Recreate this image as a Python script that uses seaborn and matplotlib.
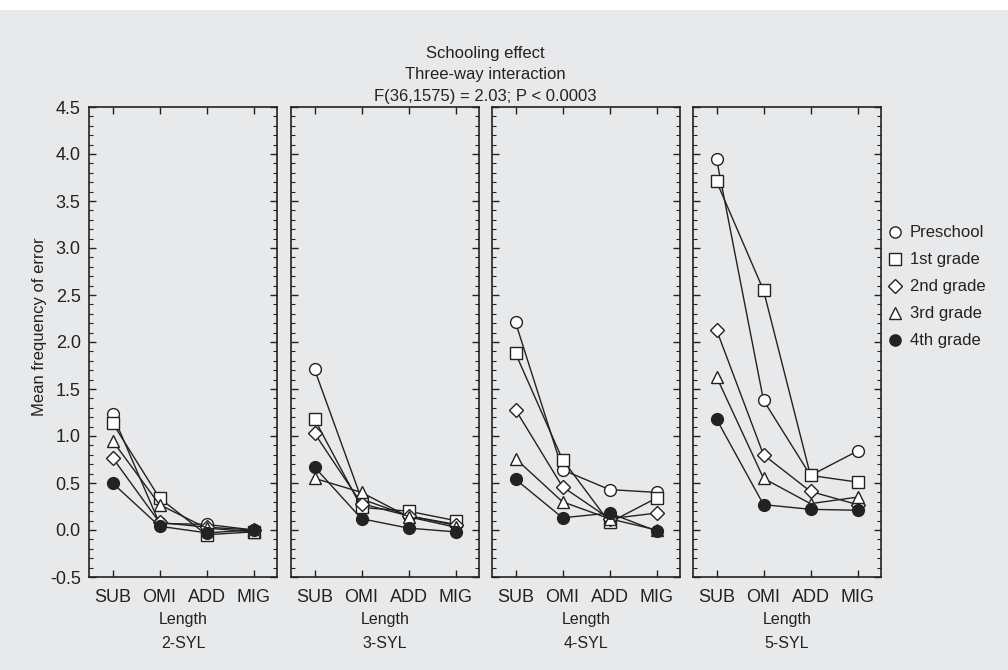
import pandas as pd
import numpy as np
import seaborn as sns
import matplotlib.pyplot as plt
from matplotlib.lines import Line2D
from matplotlib.ticker import MultipleLocator

error_types = ['SUB', 'OMI', 'ADD', 'MIG']
lengths = ['2-SYL', '3-SYL', '4-SYL', '5-SYL']
grades = ['Preschool', '1st grade', '2nd grade', '3rd grade', '4th grade']

# mean frequency of error, one list per grade, per length panel (SUB, OMI, ADD, MIG)
preschool = [[1.23, 0.07, 0.06, 0.00], [1.71, 0.33, 0.15, 0.06], [2.21, 0.64, 0.43, 0.40], [3.95, 1.38, 0.58, 0.84]]
grade1 = [[1.14, 0.34, -0.05, -0.02], [1.18, 0.24, 0.20, 0.10], [1.88, 0.75, 0.08, 0.34], [3.71, 2.55, 0.58, 0.51]]
grade2 = [[0.77, 0.08, 0.03, 0.00], [1.03, 0.28, 0.15, 0.05], [1.28, 0.46, 0.12, 0.18], [2.13, 0.80, 0.41, 0.27]]
grade3 = [[0.95, 0.27, 0.02, -0.02], [0.55, 0.40, 0.14, 0.03], [0.76, 0.30, 0.12, 0.00], [1.63, 0.55, 0.28, 0.35]]
grade4 = [[0.50, 0.04, -0.03, 0.00], [0.67, 0.12, 0.02, -0.02], [0.54, 0.13, 0.18, -0.01], [1.18, 0.27, 0.22, 0.21]]

rows = []
for g, series in zip(grades, [preschool, grade1, grade2, grade3, grade4]):
    for ln, vals in zip(lengths, series):
        for et, v in zip(error_types, vals):
            rows.append({'grade': g, 'length': ln, 'type': et, 'value': v})
df = pd.DataFrame(rows)

bg = '#e8e9eb'
ink = '#222222'
sns.set_style('ticks')
plt.rcParams['font.family'] = ['Liberation Sans', 'DejaVu Sans']
plt.rcParams['font.size'] = 11

markers = {'Preschool': 'o', '1st grade': 's', '2nd grade': 'D', '3rd grade': '^', '4th grade': 'o'}
msizes = {'Preschool': 8.5, '1st grade': 9, '2nd grade': 7, '3rd grade': 8.5, '4th grade': 8.5}
faces = {'Preschool': 'white', '1st grade': 'white', '2nd grade': 'white', '3rd grade': 'white', '4th grade': ink}

fig = plt.figure(figsize=(10.08, 6.7), dpi=100, facecolor=bg)
fig.patches.append(plt.Rectangle((0, 1 - 10 / 670), 1, 10 / 670, transform=fig.transFigure,
                                 facecolor='white', edgecolor='none', zorder=0))

lefts = [89, 291, 492, 693]
for i, ln in enumerate(lengths):
    ax = fig.add_axes([lefts[i] / 1008, 93 / 670, 188 / 1008, 470 / 670])
    ax.set_facecolor(bg)
    sub = df[df['length'] == ln]
    for g in grades:
        d = sub[sub['grade'] == g]
        sns.lineplot(data=d, x='type', y='value', ax=ax, color=ink, lw=1.0,
                     marker=markers[g], markersize=msizes[g], markerfacecolor=faces[g],
                     markeredgecolor=ink, markeredgewidth=1.0, legend=False)
    ax.set_xlim(-0.5, 3.5)
    ax.set_ylim(-0.5, 4.5)
    ax.yaxis.set_major_locator(MultipleLocator(0.5))
    ax.yaxis.set_minor_locator(MultipleLocator(0.1))
    ax.tick_params(which='both', direction='in', top=True, right=True, colors=ink, labelcolor=ink)
    ax.tick_params(which='major', length=5, width=1)
    ax.tick_params(which='minor', length=3, width=0.8)
    ax.tick_params(axis='x', labelsize=13, pad=9)
    for s in ax.spines.values():
        s.set_linewidth(1.2)
        s.set_color(ink)
    ax.set_xlabel('Length\n' + ln, fontsize=11.5, linespacing=1.75, labelpad=4, color=ink)
    if i == 0:
        ax.set_ylabel('Mean frequency of error', fontsize=12, color=ink)
        ax.yaxis.set_label_coords(-0.225, 0.532)
        ax.set_yticks(np.arange(-0.5, 4.51, 0.5))
        ax.set_yticklabels(['%.1f' % v for v in np.arange(-0.5, 4.51, 0.5)])
        ax.tick_params(axis='y', labelsize=13, pad=6)
    else:
        ax.set_ylabel('')
        ax.tick_params(axis='y', labelleft=False)

fig.text(485 / 1008, 1 - 75 / 670, 'Schooling effect\nThree-way interaction\nF(36,1575) = 2.03; P < 0.0003',
         ha='center', va='center', fontsize=12, linespacing=1.55, color=ink)

handles = [Line2D([], [], linestyle='none', marker=markers[g], markersize=msizes[g] * 0.95,
                  markerfacecolor=faces[g], markeredgecolor=ink, markeredgewidth=1.0) for g in grades]
fig.legend(handles, grades, loc='center left', bbox_to_anchor=(872 / 1008, 1 - 287 / 670),
           frameon=False, fontsize=12, labelspacing=0.72, handlelength=1.0, handletextpad=0.35,
           labelcolor=ink)

plt.savefig('out.png', dpi=100, facecolor=bg)
